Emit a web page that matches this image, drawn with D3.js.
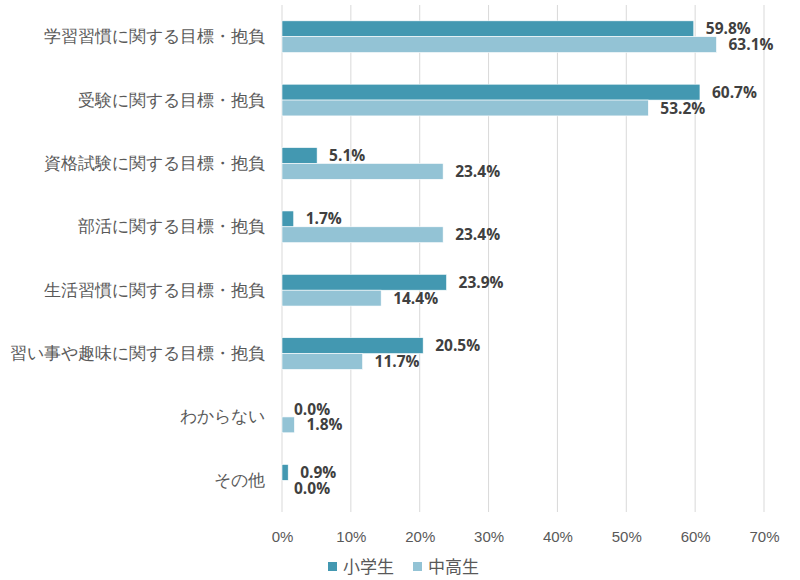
<!DOCTYPE html>
<html>
<head>
<meta charset="utf-8">
<script src="https://cdn.jsdelivr.net/npm/d3@7"></script>
<style>
  body { margin: 0; background: #fff; }
  svg { display: block; font-family: "Noto Sans CJK JP", "Noto Sans", sans-serif; }
</style>
</head>
<body>
<svg id="chart" width="800" height="580"></svg>
<script>
const categories = [
  "学習習慣に関する目標・抱負",
  "受験に関する目標・抱負",
  "資格試験に関する目標・抱負",
  "部活に関する目標・抱負",
  "生活習慣に関する目標・抱負",
  "習い事や趣味に関する目標・抱負",
  "わからない",
  "その他"
];
const seriesNames = ["小学生", "中高生"];
const elementary = [59.8, 60.7, 5.1, 1.7, 23.9, 20.5, 0.0, 0.9];
const secondary = [63.1, 53.2, 23.4, 23.4, 14.4, 11.7, 1.8, 0.0];
const xTicks = [0, 10, 20, 30, 40, 50, 60, 70];
const colors = ["#4398b1", "#93c3d5"];

const margin = { top: 5, right: 36, bottom: 68, left: 282 };
const W = 800, H = 580;
const width = W - margin.left - margin.right;
const height = H - margin.top - margin.bottom;

const svg = d3.select("#chart");
const g = svg.append("g").attr("transform", `translate(${margin.left},${margin.top})`);

const x = d3.scaleLinear().domain([0, 70]).range([0, width]);
const y = d3.scaleBand().domain(categories).range([0, height]).paddingInner(0.5).paddingOuter(0.25);
const ySub = d3.scaleBand().domain([0, 1]).range([0, y.bandwidth()]);

// gridlines
g.selectAll(".grid").data(xTicks).join("line")
  .attr("x1", d => x(d)).attr("x2", d => x(d))
  .attr("y1", 0).attr("y2", height)
  .attr("stroke", "#d9d9d9").attr("stroke-width", 1);

// x tick labels
g.append("g")
  .attr("transform", `translate(0,${height})`)
  .call(d3.axisBottom(x).tickValues(xTicks).tickFormat(d => d + "%").tickSize(0).tickPadding(19))
  .call(a => a.select(".domain").remove())
  .selectAll("text")
  .attr("fill", "#595959").style("font-size", "15px");

// category labels
g.append("g")
  .call(d3.axisLeft(y).tickSize(0).tickPadding(17))
  .call(a => a.select(".domain").remove())
  .selectAll("text")
  .attr("fill", "#595959").style("font-size", "17px");

const rows = categories.map((c, i) => ({ cat: c, vals: [elementary[i], secondary[i]] }));

const grp = g.selectAll(".cat").data(rows).join("g")
  .attr("transform", d => `translate(0,${y(d.cat)})`);

grp.selectAll("rect").data(d => d.vals.map((v, k) => ({ v, k }))).join("rect")
  .attr("x", 0)
  .attr("y", d => ySub(d.k))
  .attr("width", d => x(d.v))
  .attr("height", ySub.bandwidth())
  .attr("fill", d => colors[d.k])
  .attr("stroke", "#fff").attr("stroke-width", 0.6);

grp.selectAll("text.val").data(d => d.vals.map((v, k) => ({ v, k }))).join("text")
  .attr("class", "val")
  .attr("x", d => x(d.v) + 12)
  .attr("y", d => ySub(d.k) + ySub.bandwidth() / 2)
  .attr("dy", "0.36em")
  .attr("fill", "#404040")
  .style("font-size", "15.5px")
  .style("font-weight", "bold")
  .style("font-family", "'Open Sans', 'Noto Sans', sans-serif")
  .text(d => d.v.toFixed(1) + "%");

// legend
const legend = svg.append("g").attr("transform", "translate(328,567)");
const items = legend.selectAll("g").data(seriesNames).join("g")
  .attr("transform", (d, i) => `translate(${i * 85},0)`);
items.append("rect")
  .attr("x", 0).attr("y", -5).attr("width", 9).attr("height", 9)
  .attr("fill", (d, i) => colors[i]);
items.append("text")
  .attr("x", 15).attr("y", 0).attr("dy", "0.36em")
  .attr("fill", "#595959").style("font-size", "17px")
  .text(d => d);
</script>
</body>
</html>
